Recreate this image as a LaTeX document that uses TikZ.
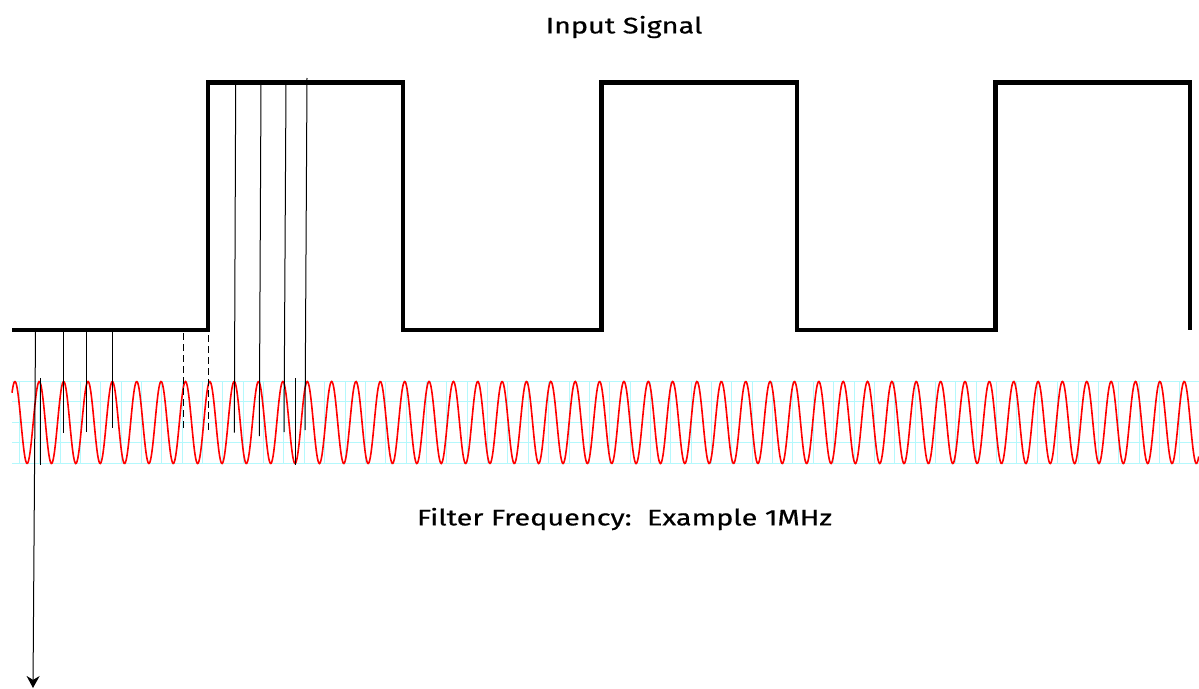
\documentclass[tikz,border=0pt]{standalone}
\usepackage{fontspec}
\setmainfont[FakeStretch=1.28,FakeBold=0.6]{Fira Sans}
\usetikzlibrary{arrows.meta}
\begin{document}
\begin{tikzpicture}[x=1pt,y=-1pt,
  square/.style={line width=4.5pt, line join=miter},
  gridline/.style={draw={rgb,255:red,180;green,248;blue,252}, line width=1pt},
  sinewave/.style={draw={rgb,255:red,255;green,0;blue,0}, line width=1.6pt},
  marker/.style={line width=1pt},
  dashmarker/.style={line width=1pt, dash pattern=on 7pt off 4pt},
  label/.style={font=\fontsize{22.5}{26}\selectfont, inner sep=0pt}]
\useasboundingbox (0,0) rectangle (1199,688);
% grid
\foreach \y in {381.7,401.9,422.1,442.3,463.3}
  \draw[gridline] (12,\y) -- (1199,\y);
\foreach \k in {0,...,57}
  \draw[gridline] ({19.3+20.36*\k},381.7) -- ({19.3+20.36*\k},463.3);
% sine (two halves to keep angles small)
\draw[sinewave] plot[domain=-1.1207:24, samples=950]
  ({39.3+24.36*\x}, {422.5-41*cos(360*\x)})
  -- plot[domain=0:23.607, samples=900]
  ({623.94+24.36*\x}, {422.5-41*cos(360*\x)});
% square wave
\draw[square] (12,330) -- (208,330) -- (208,82.7) -- (403,82.7) -- (403,330)
  -- (601.5,330) -- (601.5,82.7) -- (797,82.7) -- (797,330) -- (995.5,330)
  -- (995.5,82.7) -- (1190,82.7) -- (1190,330);
% markers
\coordinate (a0) at (35.5,332);
\coordinate (a1) at (33,688);
\draw[marker, -{Stealth[length=12pt,width=13pt]}] (a0) -- (a1);
\draw[marker] (40,378) -- (40,465);
\draw[marker] (63.3,332) -- (63.3,432.5);
\draw[marker] (86,332) -- (86,432);
\draw[marker] (112.7,332) -- (112.7,428);
\draw[dashmarker] (183.3,333) -- (183.3,431);
\draw[dashmarker] (208.3,335) -- (208.3,430);
\draw[marker] (235.7,84) -- (234.3,432.5);
\draw[marker] (261,84) -- (259.3,436);
\draw[marker] (286,84) -- (284,432);
\draw[marker] (295,378) -- (295,465);
\draw[marker] (307,78) -- (305,430);
% texts
\node[label] (title) at (624,27) {Input Signal};
\node[label] (filt) at (624.5,519) {Filter Frequency:\ \ Example 1MHz};
\end{tikzpicture}
\end{document}
